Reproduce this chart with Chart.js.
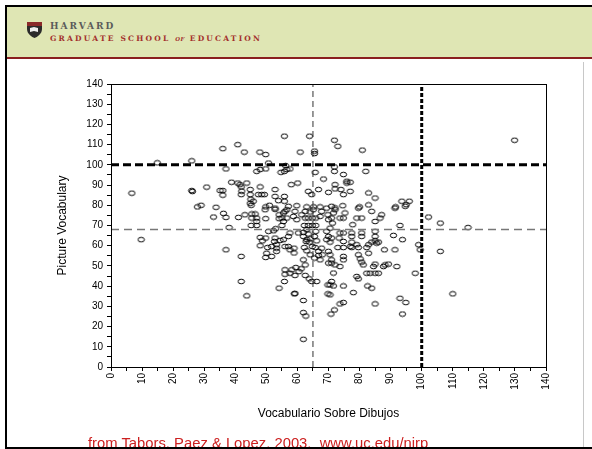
<!DOCTYPE html>
<html>
<head>
<meta charset="utf-8">
<script src="https://cdn.jsdelivr.net/npm/chart.js@4.4.1/dist/chart.umd.min.js"></script>
<style>
  html, body { margin: 0; padding: 0; background: #fff; }
  #page { position: relative; width: 592px; height: 449px; overflow: hidden; font-family: "Liberation Sans", Arial, sans-serif; }
  #frame { position: absolute; left: 5px; top: 5px; width: 600px; height: 440px; border-left: 2px solid #000; border-top: 2px solid #000; border-bottom: 2px solid #000; z-index: 3; pointer-events: none; }
  #header { position: absolute; left: 7px; top: 7px; width: 585px; height: 50px; background: #dfe6b4; border-bottom: 2px solid #8a1f1f; }
  #edge { position: absolute; left: 583px; top: 62px; width: 1px; height: 390px; background: #c8c8c8; }
  #shield { position: absolute; left: 27px; top: 22px; }
  #hv { position: absolute; left: 50px; top: 21px; font: bold 9px "DejaVu Serif", "Liberation Serif", serif; color: #5b5b5b; letter-spacing: 2px; }
  #gse { position: absolute; left: 50px; top: 34px; font: bold 7.5px "DejaVu Serif", "Liberation Serif", serif; color: #a3302c; letter-spacing: 2.2px; }
  #gse i { font-size: 5.5px; letter-spacing: 0.5px; }
  #credit { position: absolute; left: 88px; top: 436px; font-size: 14.8px; line-height: 14px; color: #cc2020; white-space: pre; z-index: 2; }
  #chart { position: absolute; left: 0; top: 0; }
</style>
</head>
<body>
<div id="page">
  <div id="header"></div>
  <div id="edge"></div>
  <svg id="shield" width="15" height="16" viewBox="0 0 15 16">
    <path d="M0 0 H15 V7 C15 12 10 15 7.5 16 C5 15 0 12 0 7 Z" fill="#2b2b2b"/>
    <rect x="0" y="0" width="15" height="4" fill="#8a2a2a"/>
    <path d="M3 6 L7 5 L11 6 L11 10 L7 9 L3 10 Z" fill="#eee"/>
  </svg>
  <div id="hv">HARVARD</div>
  <div id="gse">GRADUATE SCHOOL <i>OF</i> EDUCATION</div>
  <canvas id="chart" width="592" height="449"></canvas>
  <div id="credit">from Tabors, Paez &amp; Lopez, 2003,  www.uc.edu/nirp</div>
  <div id="frame"></div>
</div>
<script>
// Vocabulario Sobre Dibujos (x) vs Picture Vocabulary (y), one entry per child
const sobreDibujos = [
  6.7, 9.7, 14.9, 26, 26, 26.2, 30.8, 27.8, 29, 33.8, 33, 36, 35.1, 36, 36, 36.2, 37, 37, 37, 38,
  55.8, 63.9, 40.8, 42.9, 47.9, 49.8, 60.9, 65.5, 65.5, 50.7,
  46.9, 48, 49.8, 54.7, 55.8, 56.6, 57.6, 56.2, 65.7, 68.4,
  38.8, 40.8, 41.5, 43.7, 41.9, 41.9, 44.8, 44.8, 48, 47.4,
  48.5, 49.4, 52.8, 52.8, 53.9, 55.8, 55.8, 45.8, 58, 60.1,
  63.5, 64.6, 66.8, 45, 42.1, 44.8, 49.8, 51, 52.8, 63,
  65.2, 67.3, 59.8,
  71.9, 73, 80.9, 71.9, 71.9, 82, 74.8, 75.9, 75.9, 77,
  72.1, 72.1, 70, 74, 74.8, 77, 82.9, 85, 93.6, 96,
  91.6, 95, 80, 82.9, 74.6, 72.1,
  45.1, 45.3, 45.3, 46.9, 46.9, 46.9, 45.1, 49.8, 41, 41.9,
  48, 48.7, 49.8, 50.7, 52.3, 53, 52.8, 52.6, 51.7, 53.3,
  53.3, 50.4, 50.1, 49.8, 51.7, 53.3, 54.1, 55, 54.1, 55.5,
  55, 56.6, 55.5, 56.6, 57.1, 59.2, 58.7, 59.8, 61.4, 62.5,
  64.1, 65.1, 62.5, 63.5, 64.8, 65.9, 62.2, 63.5, 64.8, 65.9,
  67.3, 67.8, 63, 63.5, 61.9, 63, 64.1, 65.5, 65.9, 66.2,
  64.8, 65.7, 66.8, 66.8, 65.5, 64.1, 63, 62.2, 63.8, 61.9,
  62.5, 61.2, 59.5, 58.2, 57.6, 56, 56, 60.5, 59.2, 62.5,
  63.8, 67.8, 68, 67.3, 56, 49.6, 52.8, 43.1, 46.4, 48,
  57.6, 57.1, 55.5, 54.4, 56, 57.1, 57.6, 58.9, 58.9, 60.3,
  61.9, 62.8,
  69.4, 71, 72.1, 71.6, 69.8, 70, 71, 71.3, 70.5, 69.4,
  70, 71, 69.4, 70.5, 73.7, 74.8, 75.3, 73.7, 74.8, 77.5,
  77.5, 80.7, 80.7, 79.1, 80.7, 79.6, 83.9, 85, 86.6, 87.1,
  91.4, 94.7, 93, 85, 85, 85, 85.5, 86.1, 90.9, 93.8,
  88, 91.4, 83.9, 82.9, 82.3, 77.5, 79.1, 79.6, 77.5, 73,
  74.8, 77, 73.4, 74.8, 70, 70.5, 71, 70, 71, 72.1,
  73.7, 74.8, 74.8, 79.6, 80.2, 80.7, 81.2, 82.9, 84.5, 85,
  87.7, 88.2, 89.3, 92, 82.3, 83.4, 85, 86.1, 79.1, 79.6,
  97.9, 99, 99.5, 77.8, 71.6,
  41.9, 43.7, 55.8, 54.1, 59, 59.2, 61.9, 61.9, 62.7, 61.9,
  64.6, 66.2, 69.8, 70.5, 71, 71.6, 70.5, 69.8, 74.8, 78,
  82.6, 83.9, 73.7, 74.8, 71.9, 70.8, 85, 93, 94.9, 93.8,
  102.2, 106, 114.9, 106, 110, 129.9
];
const pictureVocab = [
  86, 63, 101, 102, 87.3, 86.8, 89, 79.2, 80, 79, 74.2, 108, 87.3, 87.3, 85, 76, 74, 98, 58, 69,
  114.2, 114.2, 110, 106.3, 106.3, 105.1, 106.3, 106.8, 105.6, 100.9,
  96.8, 97.7, 98, 96.3, 96.8, 97.7, 98, 99.6, 96.3, 93,
  91.4, 91, 90.2, 91, 89.1, 85.3, 87.8, 85.3, 89.1, 85.3,
  85.3, 85.3, 87.8, 84.4, 82.3, 84.4, 82, 82, 90.2, 91,
  86.9, 85.3, 87.8, 83, 87, 81, 79.2, 80, 78, 79.2,
  79.2, 79.2, 79.8,
  112.2, 109.2, 107.3, 99, 96.8, 96.8, 95.2, 91.9, 91, 91.4,
  90.2, 88.1, 86.4, 87.8, 85.3, 86.9, 86.1, 83.6, 82, 82,
  79.2, 80.3, 79.2, 80.2, 79.8, 78.7,
  80, 75.7, 73.7, 73.7, 72, 70, 70, 73.4, 74, 54.7,
  64.1, 62.4, 63.8, 67.1, 67.4, 68.4, 63.8, 62.1, 59.6, 60.5,
  58.8, 59.1, 56.3, 54.2, 54.7, 57.2, 75.3, 73.7, 73.4, 72,
  70, 73.7, 76.2, 77.8, 79.5, 77, 74.5, 72.9, 75.3, 77,
  76.7, 77.8, 73.7, 73.7, 73.7, 73.7, 70, 70, 70, 70,
  74.5, 77, 67.9, 65.8, 64.6, 63, 63.4, 64.6, 67.1, 62.4,
  59.6, 59.1, 57.2, 55.2, 53.9, 55.5, 57.5, 59.1, 61.8, 53,
  50.5, 48.6, 49.2, 48.1, 46.4, 48.1, 45.9, 47.2, 45.3, 45.3,
  43.6, 58.8, 55.5, 53, 77, 77.8, 78.6, 75.3, 75.7, 60,
  66.3, 64.6, 63, 62.6, 59.6, 59.6, 58, 56.4, 58.8, 66.3,
  66.6, 62.1,
  78.6, 79.5, 77.8, 76.2, 75.3, 72.9, 73.7, 71.2, 68.7, 67.1,
  64.6, 63.8, 63, 61.8, 73.7, 73.7, 76.2, 66.3, 66.3, 66.3,
  64.6, 66.3, 64.6, 73.7, 73.7, 78.6, 77, 72, 73.7, 75.3,
  78.6, 79.5, 70, 67.1, 64.6, 62.4, 61.3, 61.8, 65.1, 63,
  58, 58, 61.8, 60.5, 59.1, 61.8, 60.5, 59.1, 59.1, 59.1,
  59.1, 59.6, 63.8, 62.1, 57.2, 55.5, 53, 51.4, 51.4, 50.5,
  49.7, 54.7, 53, 55.5, 53.5, 51.9, 50.5, 56.3, 49.7, 50.9,
  49.7, 50.5, 50.9, 49.7, 46.4, 46.4, 46.4, 46.4, 44.8, 43.6,
  46.4, 60.5, 58, 70.4, 46.5,
  42.3, 35.2, 42.3, 39, 36.2, 36.4, 32.9, 26.9, 25.2, 13.7,
  42.3, 42.3, 40.6, 40.6, 42.3, 40.1, 35.7, 36.2, 40.1, 36.8,
  40.1, 39, 31.2, 31.9, 28.2, 26.2, 31.2, 34, 31.9, 26.2,
  74.2, 71.2, 69, 57.2, 36.2, 112.2
];

// reference lines: means (thin) and 100 cut-off (thick)
const meanX = 65, meanY = 68, cutX = 100, cutY = 100;
const axisMin = 0, axisMax = 140;

const points = sobreDibujos.map((x, i) => ({ x: x, y: pictureVocab[i] }));

// little open ellipse like the original markers
function ring() {
  const c = document.createElement('canvas');
  c.width = 9; c.height = 7;
  const g = c.getContext('2d');
  g.strokeStyle = '#000';
  g.lineWidth = 1;
  g.beginPath();
  g.ellipse(4.5, 3.5, 3.2, 2.3, 0, 0, Math.PI * 2);
  g.stroke();
  return c;
}

function refLine(data, color, width, dash) {
  return {
    type: 'line', data: data, borderColor: color, borderWidth: width, borderDash: dash,
    pointRadius: 0, fill: false, tension: 0, order: 0
  };
}

const boxPlugin = {
  id: 'box',
  afterDraw(chart) {
    const a = chart.chartArea, ctx = chart.ctx;
    ctx.save();
    ctx.strokeStyle = '#000';
    ctx.lineWidth = 1;
    ctx.strokeRect(Math.round(a.left) + 0.5, Math.round(a.top) + 0.5, Math.round(a.right - a.left), Math.round(a.bottom - a.top));
    ctx.restore();
  }
};

const tickLabel = v => (v % 10 === 0 ? String(v) : '');

new Chart(document.getElementById('chart'), {
  type: 'scatter',
  data: {
    datasets: [
      { data: points, pointStyle: ring(), pointRadius: 4, order: 1 },
      refLine([{ x: axisMin, y: cutY }, { x: axisMax, y: cutY }], '#000', 3, [8, 4]),
      refLine([{ x: cutX, y: axisMin }, { x: cutX, y: axisMax }], '#000', 3, [4, 2]),
      refLine([{ x: axisMin, y: meanY }, { x: axisMax, y: meanY }], '#777', 1.5, [8, 5]),
      refLine([{ x: meanX, y: axisMin }, { x: meanX, y: axisMax }], '#333', 1, [6, 4])
    ]
  },
  options: {
    responsive: false,
    animation: false,
    events: [],
    layout: { padding: { left: 51, top: 84, right: 46, bottom: 24 } },
    plugins: { legend: { display: false }, tooltip: { enabled: false } },
    scales: {
      x: {
        type: 'linear', min: axisMin, max: axisMax,
        afterFit: s => { s.height = 58; },
        border: { color: '#000' },
        grid: { drawOnChartArea: false, color: '#000', tickLength: 4 },
        ticks: { stepSize: 5, autoSkip: false, minRotation: 90, maxRotation: 90, padding: 2,
          color: '#000', font: { family: 'Liberation Sans', size: 10 }, callback: tickLabel },
        title: { display: true, text: 'Vocabulario Sobre Dibujos', color: '#000',
          font: { family: 'Liberation Sans', size: 12 } }
      },
      y: {
        type: 'linear', min: axisMin, max: axisMax,
        afterFit: s => { s.width = 60; },
        border: { color: '#000' },
        grid: { drawOnChartArea: false, color: '#000', tickLength: 4 },
        ticks: { stepSize: 5, autoSkip: false, padding: 4,
          color: '#000', font: { family: 'Liberation Sans', size: 10 }, callback: tickLabel },
        title: { display: true, text: 'Picture Vocabulary', color: '#000',
          font: { family: 'Liberation Sans', size: 12 } }
      }
    }
  },
  plugins: [boxPlugin]
});
</script>
</body>
</html>
